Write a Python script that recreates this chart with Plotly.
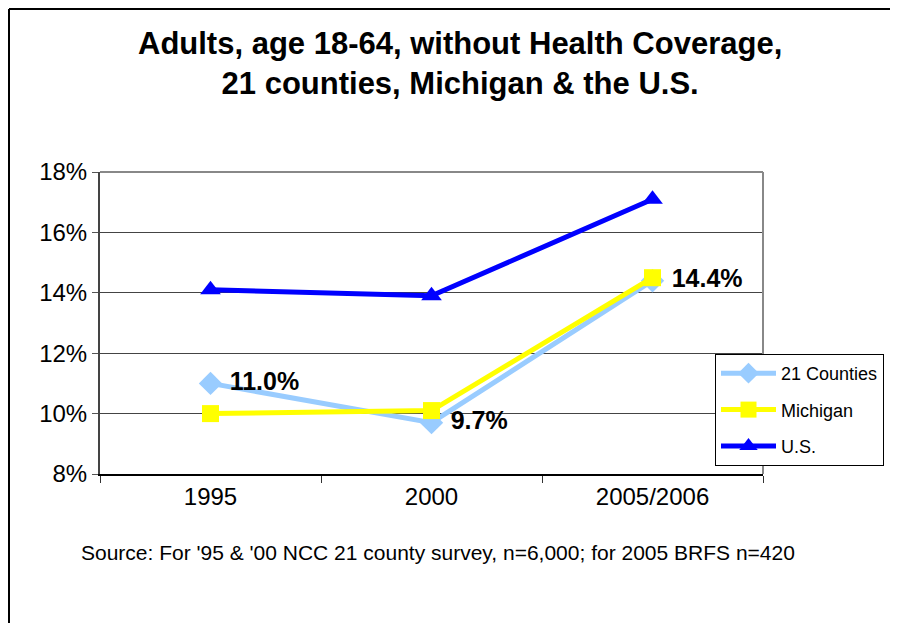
import plotly.graph_objects as go

categories = ["1995", "2000", "2005/2006"]
counties21 = [11.0, 9.7, 14.4]
michigan = [10.0, 10.1, 14.5]
us = [14.1, 13.9, 17.1]
counties_labels = ["11.0%", "9.7%", "14.4%"]
y_ticks = [8, 10, 12, 14, 16, 18]
y_tick_labels = ["8%", "10%", "12%", "14%", "16%", "18%"]

FONT = "Liberation Sans, Arial, sans-serif"

fig = go.Figure()
fig.add_trace(go.Scatter(
    x=categories, y=counties21, name="21 Counties", mode="lines+markers+text",
    legendgroup="a",
    line=dict(color="#99CCFF", width=5),
    marker=dict(symbol="diamond", size=18, color="#99CCFF"),
    text=[" " + t for t in counties_labels], textposition="middle right",
    textfont=dict(family=FONT, size=25, color="black", weight="bold"),
))
fig.add_trace(go.Scatter(
    x=categories, y=michigan, name="Michigan", mode="lines+markers",
    legendgroup="b",
    line=dict(color="#FFFF00", width=5),
    marker=dict(symbol="square", size=17, color="#FFFF00"),
))
fig.add_trace(go.Scatter(
    x=categories, y=us, name="U.S.", mode="lines+markers",
    legendgroup="c",
    line=dict(color="#0000FF", width=5),
    marker=dict(symbol="triangle-up", size=18, color="#0000FF"),
))

OFF = 8  # page body margin
L, R, T, B = 100 - OFF, 763 - OFF, 172 - OFF, 474 - OFF
W, H = 898, 623
pw, ph = R - L, B - T

def px(x):
    return (x - OFF - L) / pw

def py(y):
    return (B - (y - OFF)) / ph

fig.update_layout(
    width=W, height=H,
    margin=dict(l=L, r=W - R, t=T, b=H - B, pad=0),
    paper_bgcolor="white", plot_bgcolor="white",
    font=dict(family=FONT, color="black"),
    showlegend=True,
    legend=dict(
        x=px(715), y=py(354), xanchor="left", yanchor="top",
        bordercolor="black", borderwidth=1, bgcolor="white",
        font=dict(size=18, family=FONT), itemwidth=55,
        tracegroupgap=10,
    ),
    xaxis=dict(
        type="category", range=[-0.5, 2.5], showgrid=False,
        tickson="boundaries", ticks="outside", ticklen=7, tickcolor="#333",
        showline=True, linecolor="black", linewidth=2,
        tickfont=dict(size=24, family=FONT), zeroline=False,
    ),
    yaxis=dict(
        range=[8, 18], tickvals=y_ticks, ticktext=y_tick_labels,
        showgrid=True, gridcolor="#444", gridwidth=1,
        ticks="outside", ticklen=6, tickcolor="#555",
        showline=True, linecolor="#444", linewidth=2,
        tickfont=dict(size=24, family=FONT), zeroline=False,
    ),
    annotations=[
        dict(text="<b>Adults, age 18-64, without Health Coverage,<br>21 counties, Michigan & the U.S.</b>",
             xref="paper", yref="paper", x=px(460), y=py(64), xanchor="center", yanchor="middle",
             showarrow=False, font=dict(size=31, family=FONT), align="center"),
        dict(text="Source: For '95 & '00 NCC 21 county survey, n=6,000; for 2005 BRFS n=420",
             xref="paper", yref="paper", x=px(438), y=py(552), xanchor="center", yanchor="middle",
             showarrow=False, font=dict(size=21, family=FONT)),
    ],
    shapes=[
        dict(type="line", xref="paper", yref="paper", x0=0, x1=1, y0=1, y1=1,
             line=dict(color="#888", width=2), layer="above"),
        dict(type="line", xref="paper", yref="paper", x0=1, x1=1, y0=0, y1=1,
             line=dict(color="#888", width=2), layer="above"),
        dict(type="line", xref="paper", yref="paper", x0=px(9), x1=px(9), y0=py(9), y1=py(700),
             line=dict(color="black", width=2)),
        dict(type="line", xref="paper", yref="paper", x0=px(9), x1=px(1000), y0=py(9), y1=py(9),
             line=dict(color="black", width=2)),
    ],
)

fig.write_html("out.html")
